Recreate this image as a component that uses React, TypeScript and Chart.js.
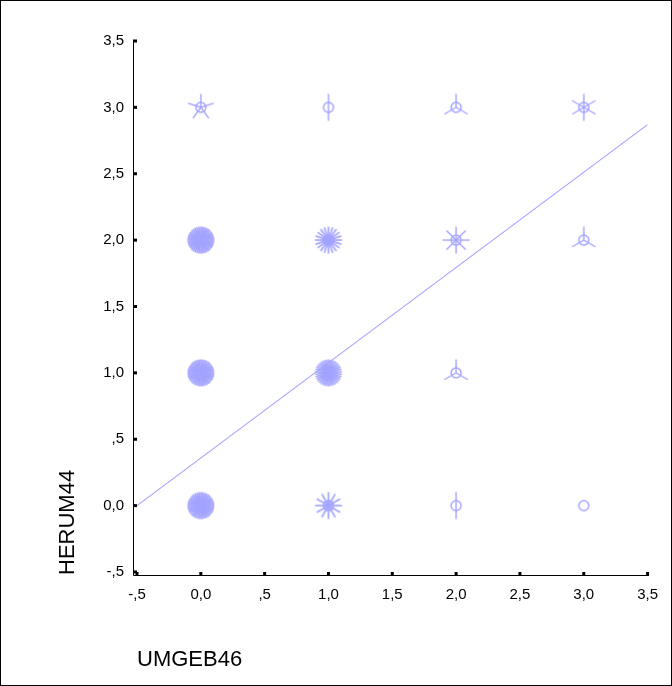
import React, { useEffect, useRef } from "react";
import { Chart, registerables } from "chart.js";

Chart.register(...registerables);

const cellX = [0, 1, 2, 3, 0, 1, 2, 3, 0, 1, 2, 0, 1, 2, 3];
const cellY = [3, 3, 3, 3, 2, 2, 2, 2, 1, 1, 1, 0, 0, 0, 0];
const cellCount = [5, 2, 3, 6, 40, 20, 8, 3, 40, 34, 3, 40, 12, 2, 1];

// Fit line endpoints
const fitX = [-0.5, 3.5];
const fitY = [0.0, 2.87];

const xTitle = "UMGEB46";
const yTitle = "HERUM44";

const COLOR = "#a3a3ff";
const FONT = "'Liberation Sans', Arial, sans-serif";

function fmt(v: number): string {
  let s = Math.abs(v).toFixed(1).replace(".", ",");
  if (Math.abs(v) < 1 && v !== 0) s = s.slice(1);
  return (v < 0 ? "-" : "") + s;
}

function makeFlower(n: number): HTMLCanvasElement {
  const S = 34;
  const c = S / 2;
  const cv = document.createElement("canvas");
  cv.width = S;
  cv.height = S;
  const ctx = cv.getContext("2d")!;
  ctx.strokeStyle = COLOR;
  ctx.fillStyle = COLOR;
  ctx.lineWidth = n >= 10 ? 1.7 : 1.4;
  ctx.beginPath();
  ctx.arc(c, c, 5, 0, Math.PI * 2);
  ctx.stroke();
  if (n > 1) {
    const L = 13.5;
    for (let i = 0; i < n; i++) {
      const a = -Math.PI / 2 + (i * 2 * Math.PI) / n;
      ctx.beginPath();
      ctx.moveTo(c, c);
      ctx.lineTo(c + L * Math.cos(a), c + L * Math.sin(a));
      ctx.stroke();
    }
  }
  return cv;
}

const decorPlugin = {
  id: "decor",
  afterDraw(chart: any) {
    const { ctx, chartArea, scales } = chart;
    const xs = scales.x;
    const ys = scales.y;
    const axX = chartArea.left - 4;
    const axY = chartArea.bottom + 3;
    ctx.save();
    // frame
    ctx.strokeStyle = "#000";
    ctx.lineWidth = 1;
    ctx.strokeRect(0.5, 0.5, chart.width - 1, chart.height - 1);
    // axis lines
    ctx.beginPath();
    ctx.moveTo(axX + 0.5, chartArea.top);
    ctx.lineTo(axX + 0.5, axY + 0.5);
    ctx.lineTo(chartArea.right + 1, axY + 0.5);
    ctx.stroke();
    // inside tick marks
    ctx.lineWidth = 3;
    ys.ticks.forEach((t: any) => {
      const p = ys.getPixelForValue(t.value);
      ctx.beginPath();
      ctx.moveTo(axX, p);
      ctx.lineTo(axX + 4, p);
      ctx.stroke();
    });
    xs.ticks.forEach((t: any) => {
      const p = xs.getPixelForValue(t.value);
      ctx.beginPath();
      ctx.moveTo(p, axY + 1);
      ctx.lineTo(p, axY - 3);
      ctx.stroke();
    });
    // titles
    ctx.fillStyle = "#000";
    ctx.font = `22px ${FONT}`;
    ctx.textAlign = "left";
    ctx.textBaseline = "alphabetic";
    ctx.fillText(xTitle, chartArea.left, 666);
    ctx.translate(74, axY);
    ctx.rotate(-Math.PI / 2);
    ctx.fillText(yTitle, 0, 0);
    ctx.restore();
  },
};

export default function App() {
  const ref = useRef<HTMLCanvasElement | null>(null);
  useEffect(() => {
    if (!ref.current) return;
    const flowers = cellCount.map((n) => makeFlower(n));
    const chart = new Chart(ref.current, {
      type: "scatter",
      data: {
        datasets: [
          {
            type: "line",
            data: fitX.map((x, i) => ({ x, y: fitY[i] })),
            borderColor: COLOR,
            borderWidth: 1.2,
            pointRadius: 0,
            fill: false,
          } as any,
          {
            data: cellX.map((x, i) => ({ x, y: cellY[i] })),
            pointStyle: flowers as any,
            pointRadius: 17,
            backgroundColor: COLOR,
            borderColor: COLOR,
          },
        ],
      },
      options: {
        responsive: false,
        animation: false,
        events: [],
        layout: { padding: { top: 41, right: 21, left: 0, bottom: 0 } },
        plugins: { legend: { display: false }, tooltip: { enabled: false } },
        scales: {
          x: {
            type: "linear",
            min: -0.5,
            max: 3.5,
            grid: { display: false, drawTicks: false },
            border: { display: false },
            ticks: {
              stepSize: 0.5,
              padding: 14,
              color: "#000",
              font: { family: FONT, size: 15 },
              maxRotation: 0,
              callback: (v: any) => fmt(Number(v)),
            },
            afterFit: (s: any) => {
              s.height = 114;
            },
          },
          y: {
            type: "linear",
            min: -0.5,
            max: 3.5,
            grid: { display: false, drawTicks: false },
            border: { display: false },
            ticks: {
              stepSize: 0.5,
              padding: 13,
              color: "#000",
              font: { family: FONT, size: 15 },
              callback: (v: any) => fmt(Number(v)),
            },
            afterFit: (s: any) => {
              s.width = 137;
            },
          },
        },
      },
      plugins: [decorPlugin],
    });
    return () => chart.destroy();
  }, []);
  return (
    <div style={{ position: "fixed", left: 0, top: 0, width: 672, height: 686, background: "#fff" }}>
      <canvas ref={ref} width={672} height={686} />
    </div>
  );
}
